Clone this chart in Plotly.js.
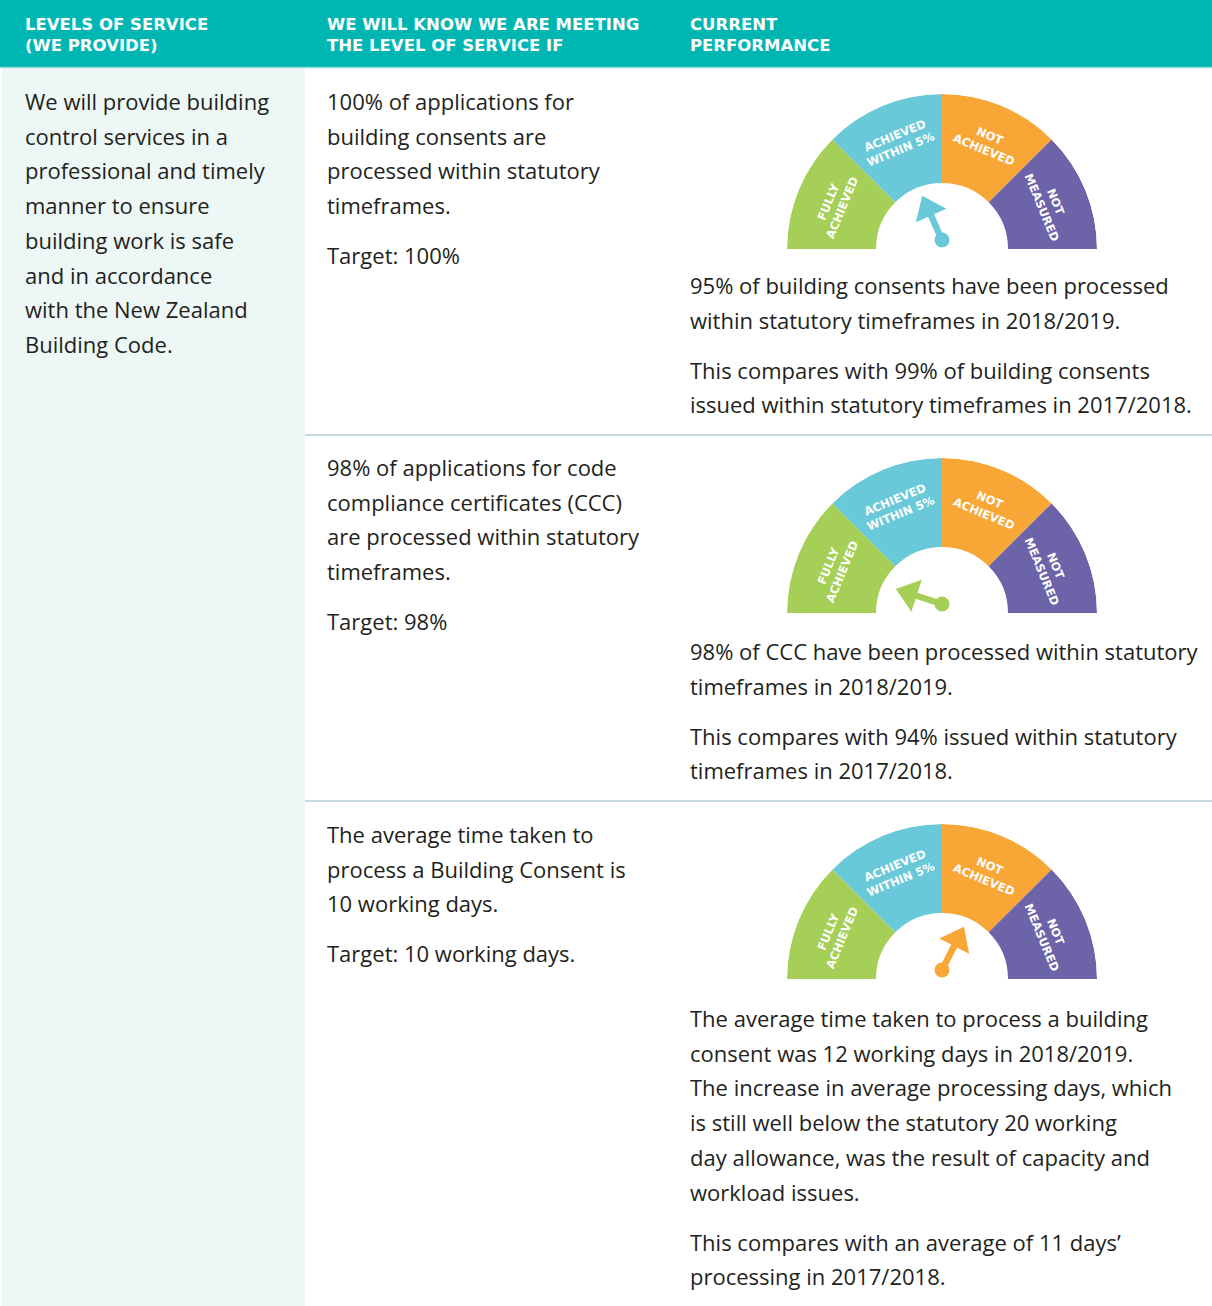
<!DOCTYPE html>
<html>
<head>
<meta charset="utf-8">
<script src="https://cdn.plot.ly/plotly-3.0.1.min.js"></script>
<style>html,body{margin:0;padding:0;background:#fff}</style>
</head>
<body>
<div id="plot" style="width:1212px;height:1306px"></div>
<script>
// gauge bands, left to right
var bandNames = ["FULLY<br>ACHIEVED", "ACHIEVED<br>WITHIN 5%", "NOT<br>ACHIEVED", "NOT<br>MEASURED"];
var bandColors = ["#a5cf56", "#69c9d9", "#f8a636", "#6c63a9"];
var bandAngles = [157.5, 112.5, 67.5, 22.5];
var bandWidths = [45, 45, 45, 45];

// needle direction (degrees) and colour for each row
var needleAngles = [114, 162, 63];
var needleColors = ["#69c9d9", "#a5cf56", "#f8a636"];

// table text
var headers = ["LEVELS OF SERVICE<br>(WE PROVIDE)",
  "WE WILL KNOW WE ARE MEETING<br>THE LEVEL OF SERVICE IF",
  "CURRENT<br>PERFORMANCE"];
var levelText = ["We will provide building", "control services in a", "professional and timely",
  "manner to ensure", "building work is safe", "and in accordance",
  "with the New Zealand", "Building Code."];
var measureText = [
  ["100% of applications for", "building consents are", "processed within statutory", "timeframes."],
  ["98% of applications for code", "compliance certificates (CCC)", "are processed within statutory", "timeframes."],
  ["The average time taken to", "process a Building Consent is", "10 working days."]
];
var targetText = ["Target: 100%", "Target: 98%", "Target: 10 working days."];
var resultText = [
  [["95% of building consents have been processed", "within statutory timeframes in 2018/2019."],
   ["This compares with 99% of building consents", "issued within statutory timeframes in 2017/2018."]],
  [["98% of CCC have been processed within statutory", "timeframes in 2018/2019."],
   ["This compares with 94% issued within statutory", "timeframes in 2017/2018."]],
  [["The average time taken to process a building", "consent was 12 working days in 2018/2019.",
    "The increase in average processing days, which", "is still well below the statutory 20 working",
    "day allowance, was the result of capacity and", "workload issues."],
   ["This compares with an average of 11 days\u2019", "processing in 2017/2018."]]
];

var W = 1212, H = 1306;
function px(x) { return x / W; }
function py(y) { return 1 - y / H; }

var rowTops = [101, 467, 834];
var resultTops = [285, 651, 1018];
var gaugeBase = [249, 613, 979];
var gaugeX = 942, R = 155, inner = 66 / R;
var lineGap = 34.7, paraGap = 50;
var bodyFont = {family: "Open Sans", size: 22, color: "#231f20"};

var data = [];
var layout = {
  width: W, height: H,
  margin: {l: 0, r: 0, t: 0, b: 0},
  paper_bgcolor: "#ffffff",
  showlegend: false,
  xaxis: {visible: false}, yaxis: {visible: false},
  shapes: [], annotations: []
};

// backgrounds and rules
layout.shapes.push({type: "rect", xref: "paper", yref: "paper", x0: 0, x1: 1, y0: py(68), y1: py(0),
  fillcolor: "#00b6b3", line: {width: 0}, layer: "below"});
layout.shapes.push({type: "line", xref: "paper", yref: "paper", x0: 0, x1: 1, y0: py(67.5), y1: py(67.5),
  line: {color: "#8fd9d6", width: 1.5}});
layout.shapes.push({type: "rect", xref: "paper", yref: "paper", x0: px(2), x1: px(305), y0: 0, y1: py(68.5),
  fillcolor: "#edf7f5", line: {width: 0}, layer: "below"});
[435, 801].forEach(function (y) {
  layout.shapes.push({type: "line", xref: "paper", yref: "paper", x0: px(305), x1: 1, y0: py(y), y1: py(y),
    line: {color: "#b7cdd9", width: 1.5}});
});

function addLines(lines, x, y0, font) {
  lines.forEach(function (t, i) {
    layout.annotations.push({xref: "paper", yref: "paper", x: px(x - 2), y: py(y0 + i * lineGap),
      xanchor: "left", yanchor: "middle", showarrow: false, text: t, font: font});
  });
  return y0 + (lines.length - 1) * lineGap;
}

// header
var headFont = {family: "DejaVu Sans", size: 16.5, color: "#ffffff", weight: 700};
var headX = [25, 327, 690];
headers.forEach(function (t, i) {
  layout.annotations.push({xref: "paper", yref: "paper", x: px(headX[i] - 2), y: py(35),
    xanchor: "left", yanchor: "middle", align: "left", showarrow: false, text: t, font: headFont});
});

addLines(levelText, 25, 101, bodyFont);

for (var k = 0; k < 3; k++) {
  var last = addLines(measureText[k], 327, rowTops[k], bodyFont);
  addLines([targetText[k]], 327, last + paraGap, bodyFont);
  var y = resultTops[k];
  resultText[k].forEach(function (p) {
    var end = addLines(p, 690, y, bodyFont);
    y = end + paraGap;
  });

  // gauge
  var pid = k === 0 ? "polar" : "polar" + (k + 1);
  var base = gaugeBase[k];
  layout[pid] = {
    domain: {x: [px(gaugeX - R), px(gaugeX + R)], y: [py(base), py(base - R)]},
    sector: [0, 180],
    bgcolor: "rgba(0,0,0,0)",
    radialaxis: {visible: false, range: [0, 1]},
    angularaxis: {visible: false, rotation: 0, direction: "counterclockwise"}
  };
  data.push({
    type: "barpolar", subplot: pid,
    r: bandAngles.map(function () { return 1 - inner; }),
    base: bandAngles.map(function () { return inner; }),
    theta: bandAngles, width: bandWidths,
    marker: {color: bandColors, line: {width: 0}, opacity: 1},
    hoverinfo: "skip"
  });

  // needle: pivot just above the centre, pointing at needleAngles[k]
  var a = needleAngles[k] * Math.PI / 180;
  var dx = Math.cos(a), dy = Math.sin(a);
  var piv = [0, 9 / R];
  var L = 48 / R;
  function polarOf(d) {
    var x = piv[0] + d * dx, yy = piv[1] + d * dy;
    return [Math.sqrt(x * x + yy * yy), Math.atan2(yy, x) * 180 / Math.PI];
  }
  var p0 = polarOf(0), p1 = polarOf(L - 18 / R), ph = polarOf(L - 14 / R);
  data.push({
    type: "scatterpolar", subplot: pid, mode: "lines", cliponaxis: false,
    r: [p0[0], p1[0]], theta: [p0[1], p1[1]],
    line: {color: needleColors[k], width: 6.5}, hoverinfo: "skip"
  });
  data.push({
    type: "scatterpolar", subplot: pid, mode: "markers", cliponaxis: false,
    r: [p0[0], ph[0]], theta: [p0[1], ph[1]],
    marker: {color: needleColors[k], symbol: ["circle", "triangle-up"], size: [15, 29],
      angle: [0, 90 - needleAngles[k]], opacity: 1, line: {width: 0}},
    hoverinfo: "skip"
  });

  // band labels
  bandNames.forEach(function (name, i) {
    var t = bandAngles[i] * Math.PI / 180;
    layout.annotations.push({xref: "paper", yref: "paper",
      x: px(gaugeX + 115 * Math.cos(t)), y: py(base - 115 * Math.sin(t)),
      xanchor: "center", yanchor: "middle", showarrow: false, text: name,
      textangle: 90 - bandAngles[i],
      font: {family: "DejaVu Sans", size: 11.5, color: "#ffffff", weight: 700}});
  });
}

Plotly.newPlot("plot", data, layout, {displayModeBar: false, staticPlot: true});
</script>
</body>
</html>
